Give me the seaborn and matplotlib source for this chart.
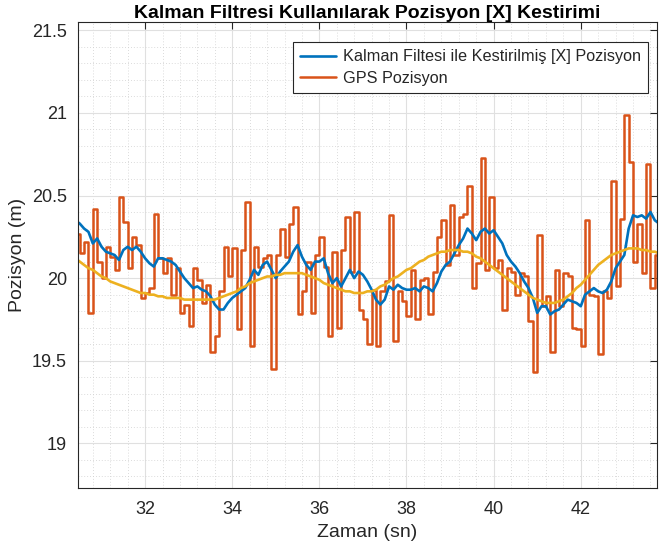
import numpy as np
import matplotlib
matplotlib.use("Agg")
import matplotlib.pyplot as plt
from matplotlib.ticker import MultipleLocator, FuncFormatter
import seaborn as sns

# sample times (s), 0.1 s step
time_s = np.round(np.arange(304, 439) / 10, 1)

# GPS position measurements (m)
gps_pos = [
    20.27, 20.15, 20.22, 19.79, 20.42, 20.10, 20.00, 20.19, 20.13, 20.05,
    20.49, 20.34, 20.06, 20.25, 20.20, 19.88, 19.91, 19.94, 20.39, 20.12,
    20.03, 20.12, 19.90, 20.06, 19.79, 19.84, 19.71, 20.06, 19.99, 19.85,
    19.96, 19.55, 19.65, 19.92, 20.19, 20.01, 20.18, 19.69, 20.17, 20.46,
    19.59, 20.19, 20.07, 20.12, 20.14, 19.45, 20.14, 20.30, 20.13, 20.33,
    20.43, 19.78, 19.92, 20.10, 19.79, 20.14, 20.25, 20.07, 19.65, 20.16,
    19.70, 20.17, 20.37, 20.04, 20.40, 19.81, 19.75, 19.60, 19.93, 19.59,
    19.92, 19.98, 20.38, 19.62, 19.92, 19.86, 19.77, 20.05, 19.75, 19.99,
    20.00, 19.78, 20.04, 20.25, 20.35, 20.08, 20.44, 20.14, 20.37, 20.39,
    20.56, 19.94, 20.09, 20.73, 20.05, 20.49, 20.06, 20.11, 19.81, 20.06,
    20.04, 19.90, 20.03, 20.01, 19.74, 19.43, 20.26, 19.83, 19.89, 19.55,
    20.05, 19.83, 20.03, 20.01, 19.70, 19.69, 19.59, 20.35, 19.90, 19.89,
    19.54, 19.92, 19.88, 20.59, 19.95, 20.36, 20.99, 20.70, 20.10, 20.33,
    20.03, 20.69, 19.94, 20.14, 20.14,
]

# Kalman filter estimate (m)
kalman_pos = [
    20.35, 20.33, 20.30, 20.28, 20.21, 20.24, 20.19, 20.16, 20.15, 20.14,
    20.11, 20.17, 20.19, 20.17, 20.19, 20.16, 20.12, 20.09, 20.07, 20.12,
    20.12, 20.11, 20.10, 20.08, 20.04, 20.00, 19.97, 19.94, 19.95, 19.93,
    19.92, 19.89, 19.84, 19.81, 19.81, 19.85, 19.88, 19.90, 19.92, 19.94,
    19.99, 20.05, 20.02, 20.08, 20.10, 20.05, 20.00, 20.04, 20.07, 20.10,
    20.16, 20.20, 20.13, 20.08, 20.05, 20.10, 20.10, 20.12, 20.03, 19.97,
    20.00, 19.95, 20.00, 20.05, 20.00, 20.04, 20.02, 19.98, 19.93, 19.87,
    19.84, 19.87, 19.95, 19.93, 19.96, 19.94, 19.93, 19.93, 19.94, 19.92,
    19.95, 19.94, 19.92, 19.97, 20.04, 20.08, 20.10, 20.15, 20.20, 20.24,
    20.30, 20.27, 20.23, 20.28, 20.30, 20.27, 20.29, 20.25, 20.21, 20.14,
    20.10, 20.07, 20.03, 19.98, 19.94, 19.88, 19.79, 19.83, 19.83, 19.78,
    19.80, 19.81, 19.84, 19.87, 19.86, 19.85, 19.83, 19.90, 19.92, 19.94,
    19.92, 19.91, 19.93, 19.98, 20.06, 20.10, 20.14, 20.30, 20.38, 20.37,
    20.38, 20.36, 20.40, 20.35, 20.33,
]

# reference (true) position (m)
true_pos = [
    20.12, 20.10, 20.08, 20.06, 20.05, 20.03, 20.01, 20.00, 19.98, 19.97,
    19.96, 19.95, 19.94, 19.93, 19.92, 19.91, 19.91, 19.90, 19.90, 19.89,
    19.89, 19.88, 19.88, 19.88, 19.88, 19.87, 19.87, 19.87, 19.87, 19.87,
    19.87, 19.87, 19.87, 19.88, 19.89, 19.90, 19.91, 19.92, 19.94, 19.95,
    19.97, 19.98, 19.99, 20.00, 20.01, 20.01, 20.02, 20.02, 20.03, 20.03,
    20.03, 20.03, 20.03, 20.02, 20.01, 20.00, 19.99, 19.97, 19.96, 19.95,
    19.94, 19.93, 19.92, 19.92, 19.91, 19.91, 19.91, 19.92, 19.92, 19.93,
    19.95, 19.96, 19.98, 20.00, 20.01, 20.03, 20.05, 20.06, 20.08, 20.10,
    20.11, 20.13, 20.14, 20.15, 20.16, 20.16, 20.17, 20.17, 20.17, 20.16,
    20.16, 20.15, 20.13, 20.12, 20.10, 20.08, 20.06, 20.04, 20.02, 20.00,
    19.98, 19.96, 19.94, 19.92, 19.90, 19.88, 19.87, 19.86, 19.85, 19.85,
    19.85, 19.86, 19.87, 19.89, 19.91, 19.94, 19.96, 19.99, 20.02, 20.05,
    20.08, 20.10, 20.12, 20.14, 20.15, 20.16, 20.17, 20.18, 20.18, 20.18,
    20.17, 20.17, 20.16, 20.16, 20.15,
]

legend_labels = ["Kalman Filtesi ile Kestirilmiş [X] Pozisyon", "GPS Pozisyon"]

sns.set_style("white")
plt.rcParams["font.family"] = ["Liberation Sans", "DejaVu Sans"]

fig = plt.figure(figsize=(6.59, 5.52), dpi=100)
ax = fig.add_axes([78 / 659, 1 - 488 / 552, 579 / 659, 466 / 552])

sns.lineplot(x=time_s, y=gps_pos, ax=ax, color="#D95319", linewidth=1.8,
             drawstyle="steps-post", estimator=None, sort=False)
sns.lineplot(x=time_s, y=kalman_pos, ax=ax, color="#0072BD", linewidth=1.9,
             estimator=None, sort=False)
sns.lineplot(x=time_s, y=true_pos, ax=ax, color="#EDB120", linewidth=1.9,
             estimator=None, sort=False)

gps_line, kalman_line = ax.lines[0], ax.lines[1]

ax.set_xlim(30.46, 43.75)
ax.set_ylim(18.73, 21.55)
ax.xaxis.set_major_locator(MultipleLocator(2))
ax.xaxis.set_minor_locator(MultipleLocator(0.4))
ax.yaxis.set_major_locator(MultipleLocator(0.5))
ax.yaxis.set_minor_locator(MultipleLocator(0.1))
ax.yaxis.set_major_formatter(FuncFormatter(lambda v, p: f"{v:g}"))

ax.grid(which="major", color="#e0e0e0", linewidth=0.8, linestyle="-")
ax.grid(which="minor", color="#cfcfcf", linewidth=0.6, linestyle=(0, (1, 2.5)))
ax.set_axisbelow(True)

for s in ax.spines.values():
    s.set_color("#262626")
    s.set_linewidth(0.8)
ax.tick_params(which="major", direction="in", length=5, width=0.8, color="#262626",
               top=True, right=True, labelsize=13, labelcolor="#262626")
ax.tick_params(axis="y", pad=8)
ax.tick_params(axis="x", pad=9)
ax.tick_params(which="minor", length=0)

ax.set_xlabel("Zaman (sn)", fontsize=14, color="#262626", labelpad=5)
ax.set_ylabel("Pozisyon (m)", fontsize=14, color="#262626", labelpad=4)
ax.set_title("Kalman Filtresi Kullanılarak Pozisyon [X] Kestirimi",
             fontsize=14, fontweight="bold", color="black", pad=3)

leg = ax.legend([kalman_line, gps_line], legend_labels, loc="upper right",
                bbox_to_anchor=(0.985, 0.957), borderaxespad=0, fontsize=11.7,
                frameon=True, fancybox=False, framealpha=1, edgecolor="#262626",
                handlelength=2.2, handletextpad=0.45, borderpad=0.45, labelspacing=0.4)
leg.get_frame().set_linewidth(0.8)

fig.savefig("out.png", dpi=100)
